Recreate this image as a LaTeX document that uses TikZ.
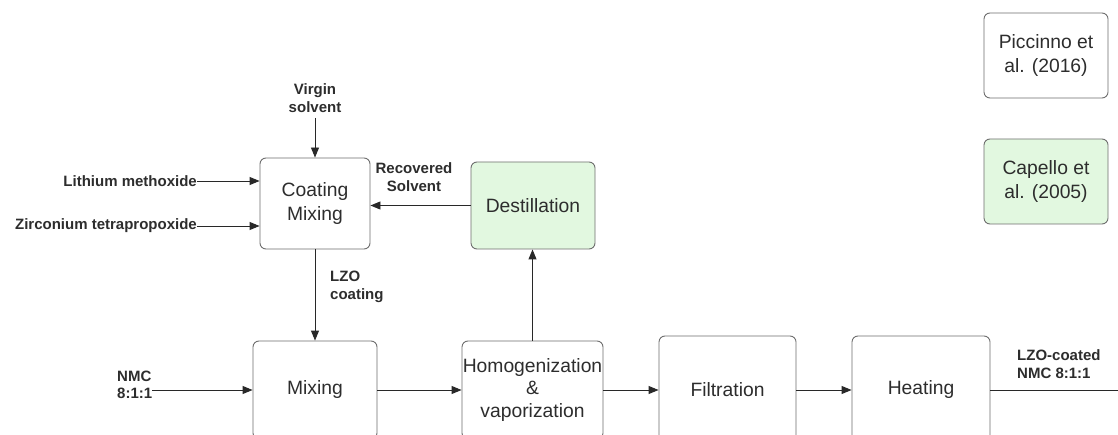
\documentclass[tikz,border=0pt]{standalone}
\usepackage{fontspec}
\setmainfont{Liberation Sans}
\usepackage{tikz}
\usetikzlibrary{arrows.meta}
\usetikzlibrary{shapes}

\tikzset{
  procbox/.style={draw=borderColor,line width=0.9pt,rounded corners=6pt,fill=white,text=textColor,align=center,inner sep=0pt,font=\fontsize{19.3}{23.5}\selectfont},
  refbox/.style={procbox,fill=greenColor},
  flowlabel/.style={text=textColor,inner sep=0pt,font=\fontsize{15}{17.5}\selectfont\bfseries},
  flowarrow/.style={draw=lineColor,line width=0.9pt,-{Triangle[length=10pt,width=8pt]}}
}

\begin{document}
\begin{tikzpicture}[x=1pt,y=1pt]
\definecolor{fillColor}{RGB}{255,255,255}
\definecolor{borderColor}{RGB}{110,110,110}
\definecolor{greenColor}{RGB}{226,248,224}
\definecolor{textColor}{RGB}{45,45,45}
\definecolor{lineColor}{RGB}{40,40,40}
\path[use as bounding box,fill=fillColor] (0,0) rectangle (1118,434);
\begin{scope}
\path[clip] (  0.00,  0.00) rectangle (1118.00,434.00);

\node[procbox,minimum width=110,minimum height=91] (coat) at (315.0,230.5) {Coating\\Mixing};
\node[refbox,minimum width=124,minimum height=87] (dest) at (533.0,228.5) {Destillation};

\node[procbox,minimum width=124,minimum height=98] (mix) at (315.0,44.0) {Mixing};
\node[procbox,minimum width=141,minimum height=98,font=\fontsize{19.3}{22.5}\selectfont] (homo) at (532.5,44.0) {Homogenization\\\&\\vaporization};
\node[procbox,minimum width=137,minimum height=108] (filt) at (727.5,44.0) {Filtration};
\node[procbox,minimum width=138,minimum height=108] (heat) at (921.0,44.0) {Heating};

\node[procbox,minimum width=124,minimum height=85] (picc) at (1046.0,378.5) {Piccinno et\\al. (2016)};
\node[refbox,minimum width=124,minimum height=85] (cape) at (1046.0,252.5) {Capello et\\al. (2005)};

\node[flowlabel,align=center] (virgin) at (315.0,336.0) {Virgin\\solvent};
\node[flowlabel,anchor=east] (lith) at (197.0,253.0) {Lithium methoxide};
\node[flowlabel,anchor=east] (zirc) at (197.0,208.0) {Zirconium tetrapropoxide};
\node[flowlabel,align=center] (recov) at (414.0,257.0) {Recovered\\Solvent};
\node[flowlabel,align=left,anchor=west] (lzo) at (330.0,147.0) {LZO\\coating};
\node[flowlabel,align=left,anchor=west] (nmc) at (117.0,49.0) {NMC\\8:1:1};
\node[flowlabel,align=left,anchor=west] (prod) at (1017.0,70.0) {LZO-coated\\NMC 8:1:1};
\coordinate (out) at (1128.0,44.0);

\draw[flowarrow] (virgin.south |- 0,316) -- (coat.north);
\draw[flowarrow] (lith.east) -- (lith.east -| coat.west);
\draw[flowarrow] (zirc.east) -- (zirc.east -| coat.west);
\draw[flowarrow] (dest.west) -- (dest.west -| coat.east);
\draw[flowarrow] (coat.south) -- (mix.north);
\draw[flowarrow] (homo.north) -- (homo.north |- dest.south);
\draw[flowarrow] (nmc.east |- mix.west) -- (mix.west);
\draw[flowarrow] (mix.east) -- (homo.west);
\draw[flowarrow] (homo.east) -- (filt.west);
\draw[flowarrow] (filt.east) -- (heat.west);
\draw[flowarrow] (heat.east) -- (out);
\end{scope}
\end{tikzpicture}
\end{document}
